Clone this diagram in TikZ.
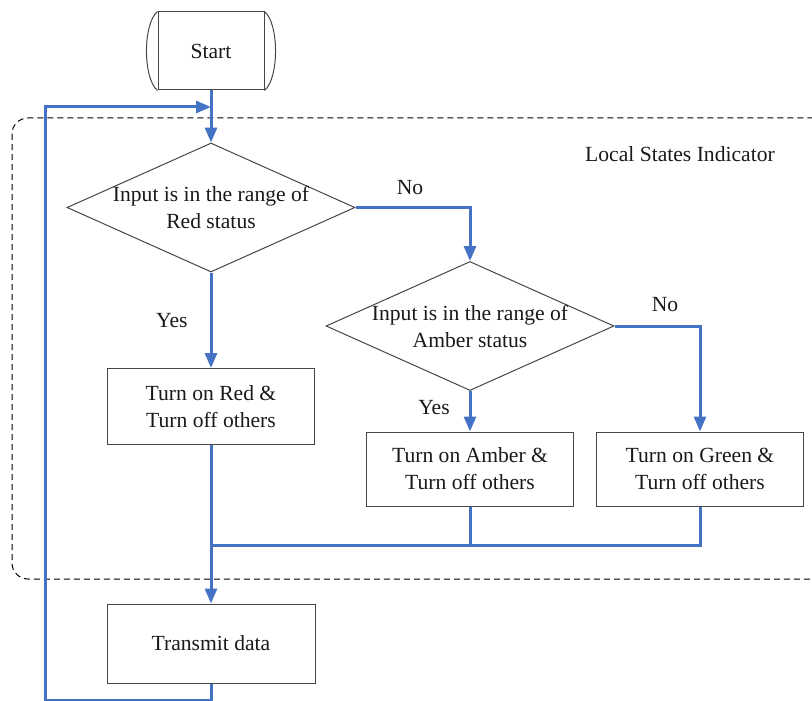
\documentclass[tikz,border=0pt]{standalone}
\usepackage{fontspec}
\setmainfont{Liberation Serif}
\usetikzlibrary{arrows.meta,shapes.geometric}
\definecolor{flowblue}{RGB}{68,114,196}
\definecolor{boxgray}{RGB}{70,70,70}
\definecolor{inkgray}{RGB}{25,25,25}
\tikzset{
  flow/.style={draw=flowblue, line width=3pt},
  flowarrow/.style={flow, -{Triangle[length=15pt,width=12pt]}},
  procbox/.style={draw=boxgray, line width=1pt, minimum width=207pt, minimum height=76pt,
    align=center, inner sep=0pt, text=inkgray},
  decision/.style={draw=boxgray, line width=1pt, shape=diamond, minimum width=288pt,
    minimum height=129pt, aspect=2.23, inner sep=0pt},
  caption/.style={align=center, inner sep=0pt, text=inkgray},
  region/.style={draw=black, line width=1pt, dash pattern=on 6pt off 4pt, rounded corners=16pt}
}
\begin{document}
\begin{tikzpicture}[x=1pt,y=-1pt,font=\fontsize{21.6}{27}\selectfont]
\clip (0,0) rectangle (812,701);

% dashed group frame
\draw[region] (12,118) rectangle (840,579);
\node[caption, anchor=west] (regionlabel) at (585,154) {Local States Indicator};

% start terminal with bulging sides
\node[draw=boxgray, line width=1pt, minimum width=106pt, minimum height=78pt, inner sep=0pt,
  text=inkgray] (start) at (211,51) {Start};
\draw[boxgray, line width=1pt] (start.north west) .. controls +(-14.7,12) and +(-14.7,-12) .. (start.south west);
\draw[boxgray, line width=1pt] (start.north east) .. controls +(14.7,12) and +(14.7,-12) .. (start.south east);

% decisions
\node[decision] (d1) at (211,207.5) {};
\node[caption] (d1text) at (211,207.5) {Input is in the range of\\Red status};
\node[decision] (d2) at (470,326) {};
\node[caption] (d2text) at (470,326) {Input is in the range of\\Amber status};

% processes
\node[procbox] (red) at (211,406.5) {Turn on Red \&\\Turn off others};
\node[procbox, minimum height=74pt] (amber) at (470,469) {Turn on Amber \&\\Turn off others};
\node[procbox, minimum height=74pt] (green) at (700,469) {Turn on Green \&\\Turn off others};
\node[procbox, minimum width=208pt, minimum height=79pt] (transmit) at (211,643.5) {Transmit data};

% helper points
\coordinate (merge) at (211,545);
\coordinate (loopcorner) at (45,700.5);
\coordinate (loopend) at (211,107);
\coordinate (noone) at (d2.north |- d1.east);
\coordinate (notwo) at (green.north |- d2.east);

% connectors
\draw[flowarrow] (start.south) -- (d1.north);
\draw[flowarrow] (d1.south) -- node[caption, pos=0.5, left=22pt] (yesone) {Yes} (red.north);
\draw[flowarrow] (d1.east) -- (noone) -- (d2.north);
\node[caption] (nolabelone) at (410,188) {No};
\draw[flowarrow] (d2.east) -- (notwo) -- (green.north);
\node[caption] (nolabeltwo) at (665,305) {No};
\draw[flowarrow] (d2.south) -- (amber.north);
\node[caption] (yestwo) at (434,408) {Yes};
\draw[flowarrow] (red.south) -- (transmit.north);
\draw[flow] (amber.south) |- (merge);
\draw[flow] (green.south) |- (merge);
\draw[flowarrow] (transmit.south) |- (loopcorner) |- (loopend);
\end{tikzpicture}
\end{document}
